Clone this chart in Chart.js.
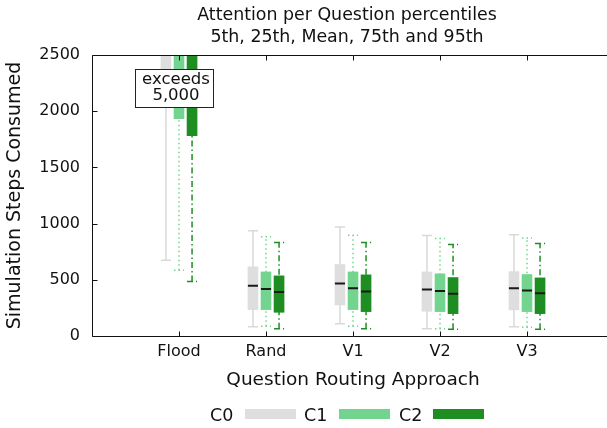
<!DOCTYPE html>
<html>
<head>
<meta charset="utf-8">
<script src="https://cdn.jsdelivr.net/npm/chart.js@4.4.1/dist/chart.umd.min.js"></script>
<style>
  html, body { margin: 0; padding: 0; background: #fff; overflow: hidden; }
  #wrap { position: relative; width: 607px; height: 428px; overflow: hidden; }
  #chart { display: block; }
  #legend { position: absolute; left: 0; top: 0; width: 100%; height: 100%; pointer-events: none;
            font-family: 'DejaVu Sans', sans-serif; font-size: 17.5px; color: #111; }
  .lg-text { position: absolute; top: 405px; line-height: 20px; white-space: nowrap; }
  .lg-swatch { position: absolute; top: 409px; width: 51px; height: 10px; }
</style>
</head>
<body>
<div id="wrap">
  <!-- canvas is wider than the page: the plot's right edge falls outside the view -->
  <canvas id="chart" width="630" height="428"></canvas>
  <div id="legend"></div>
</div>
<script>
const categories = ['Flood', 'Rand', 'V1', 'V2', 'V3'];
const yTicks = [0, 500, 1000, 1500, 2000, 2500];

// percentiles per routing approach; Flood's upper values run past the top of the axis
const c0P5   = [675, 83, 110, 65, 83];
const c0P25  = [2150, 235, 276, 220, 232];
const c0Mean = [5600, 446, 466, 413, 425];
const c0P75  = [7400, 615, 636, 570, 573];
const c0P95  = [9800, 936, 969, 894, 900];

const c1P5   = [585, 86, 86, 65, 77];
const c1P25  = [1934, 235, 235, 217, 217];
const c1Mean = [5300, 419, 425, 401, 404];
const c1P75  = [7000, 570, 570, 553, 547];
const c1P95  = [9400, 882, 897, 867, 871];

const c2P5   = [484, 65, 65, 59, 59];
const c2P25  = [1782, 211, 217, 199, 199];
const c2Mean = [5200, 392, 395, 377, 380];
const c2P75  = [6900, 535, 544, 520, 517];
const c2P95  = [9200, 832, 832, 814, 823];

const titleLines = ['Attention per Question percentiles', '5th, 25th, Mean, 75th and 95th'];
const noteLines = ['exceeds', '5,000'];

const series = [
  { name: 'C0', p5: c0P5, p25: c0P25, mean: c0Mean, p75: c0P75, p95: c0P95,
    fill: '#dedede', line: '#d9d9d9', dash: [], shift: -0.15, legendX: 210, swatchX: 245 },
  { name: 'C1', p5: c1P5, p25: c1P25, mean: c1Mean, p75: c1P75, p95: c1P95,
    fill: '#72d48f', line: '#72d48f', dash: [1.5, 3], shift: 0, legendX: 304, swatchX: 339 },
  { name: 'C2', p5: c2P5, p25: c2P25, mean: c2Mean, p75: c2P75, p95: c2P95,
    fill: '#1e8e22', line: '#1e8e22', dash: [6, 3, 1.5, 3], shift: 0.15, legendX: 399, swatchX: 433 }
];

const BOX_HALF = 0.058;   // half box width in category units

const datasets = [];
series.forEach(s => {
  const xs = categories.map((_, i) => i + 1 + s.shift);

  // whisker stems plus caps, broken apart with null y values
  const whisker = [];
  xs.forEach((x, i) => {
    whisker.push(
      { x, y: s.p5[i] }, { x, y: s.p95[i] }, { x, y: null },
      { x: x - BOX_HALF, y: s.p95[i] }, { x: x + BOX_HALF, y: s.p95[i] }, { x, y: null },
      { x: x - BOX_HALF, y: s.p5[i] }, { x: x + BOX_HALF, y: s.p5[i] }, { x, y: null }
    );
  });
  datasets.push({
    type: 'line', label: s.name + ' whiskers', data: whisker,
    borderColor: s.line, borderWidth: 1.5, borderDash: s.dash,
    pointRadius: 0, spanGaps: false, clip: 0, order: 3
  });

  // the 25th-75th box as a floating bar
  datasets.push({
    type: 'bar', label: s.name, data: xs.map((x, i) => ({ x, y: [s.p25[i], s.p75[i]] })),
    backgroundColor: s.fill, borderWidth: 0, barThickness: 10, grouped: false,
    clip: 0, order: 2
  });

  // mean marker across each box
  const means = [];
  xs.forEach((x, i) => {
    means.push({ x: x - BOX_HALF, y: s.mean[i] }, { x: x + BOX_HALF, y: s.mean[i] }, { x, y: null });
  });
  datasets.push({
    type: 'line', label: s.name + ' mean', data: means,
    borderColor: '#1a1a1a', borderWidth: 2, pointRadius: 0, spanGaps: false, clip: 0, order: 1
  });
});

// frame (top, left, bottom) with inward tick marks, gnuplot style, plus title and note
const framePlugin = {
  id: 'frame',
  afterDatasetsDraw(chart) {
    const { ctx, chartArea: a, scales: { x, y } } = chart;
    const L = Math.round(a.left) + 0.5, R = Math.round(a.right) + 0.5;
    const T = Math.round(a.top) + 0.5, B = Math.round(a.bottom) + 0.5;
    ctx.save();
    ctx.strokeStyle = '#111';
    ctx.lineWidth = 1;
    ctx.beginPath();
    ctx.moveTo(R, T); ctx.lineTo(L, T); ctx.lineTo(L, B); ctx.lineTo(R, B);
    x.ticks.forEach(t => {
      const px = Math.round(x.getPixelForValue(t.value)) + 0.5;
      ctx.moveTo(px, B); ctx.lineTo(px, B - 5);
      ctx.moveTo(px, T); ctx.lineTo(px, T + 5);
    });
    y.ticks.forEach(t => {
      const py = Math.round(y.getPixelForValue(t.value)) + 0.5;
      ctx.moveTo(L, py); ctx.lineTo(L + 5, py);
    });
    ctx.stroke();
    ctx.restore();
  },
  afterDraw(chart) {
    const { ctx, chartArea: a, scales: { x, y } } = chart;
    ctx.save();

    // two-line title over the plot
    ctx.fillStyle = '#111';
    ctx.font = '17.4px "DejaVu Sans"';
    ctx.textAlign = 'center';
    ctx.textBaseline = 'alphabetic';
    const tx = (a.left + a.right) / 2 - 6;
    ctx.fillText(titleLines[0], tx, 20);
    ctx.fillText(titleLines[1], tx, 41.5);

    // boxed note over the Flood column
    const cx = x.getPixelForValue(0.9425), cy = y.getPixelForValue(2206);
    const w = 78, h = 38;
    const left = Math.round(cx - w / 2) + 0.5, top = Math.round(cy - h / 2) + 0.5;
    ctx.fillStyle = '#fff';
    ctx.fillRect(left, top, w, h);
    ctx.strokeStyle = '#222';
    ctx.lineWidth = 1;
    ctx.strokeRect(left, top, w, h);
    ctx.fillStyle = '#111';
    ctx.font = '16.5px "DejaVu Sans"';
    ctx.textBaseline = 'middle';
    ctx.fillText(noteLines[0], cx + 2, cy - 8);
    ctx.fillText(noteLines[1], cx + 2, cy + 8);
    ctx.restore();
  }
};

Chart.defaults.font.family = "'DejaVu Sans', sans-serif";
Chart.defaults.color = '#111';

new Chart(document.getElementById('chart'), {
  type: 'bar',
  data: { datasets },
  plugins: [framePlugin],
  options: {
    responsive: false,
    animation: false,
    layout: { padding: { left: 0, right: 16, top: 55, bottom: 36 } },
    plugins: {
      legend: { display: false },
      tooltip: { enabled: false },
      title: { display: false }
    },
    scales: {
      x: {
        type: 'linear', min: 0, max: categories.length + 1, offset: false,
        afterBuildTicks: sc => { sc.ticks = categories.map((_, i) => ({ value: i + 1 })); },
        afterFit: sc => { sc.height = 56; },
        ticks: { callback: v => categories[v - 1], font: { size: 16 }, padding: 6, autoSkip: false, maxRotation: 0 },
        grid: { display: false, drawTicks: false },
        border: { display: false },
        title: { display: true, text: 'Question Routing Approach', font: { size: 18.5 }, padding: { top: 0, bottom: 1 } }
      },
      y: {
        min: 0, max: 2500,
        afterBuildTicks: sc => { sc.ticks = yTicks.map(v => ({ value: v })); },
        afterFit: sc => { sc.width = 92; },
        ticks: { callback: v => String(v), font: { size: 16 }, padding: 12 },
        grid: { display: false, drawTicks: false },
        border: { display: false },
        title: { display: true, text: 'Simulation Steps Consumed', font: { size: 19 }, padding: { top: 4, bottom: 0 } }
      }
    }
  }
});

// legend row: name first, then a swatch of the box colour
const legendEl = document.getElementById('legend');
series.forEach(s => {
  const t = document.createElement('span');
  t.className = 'lg-text';
  t.style.left = s.legendX + 'px';
  t.textContent = s.name;
  legendEl.appendChild(t);
  const sw = document.createElement('div');
  sw.className = 'lg-swatch';
  sw.style.left = s.swatchX + 'px';
  sw.style.background = s.fill;
  legendEl.appendChild(sw);
});
</script>
</body>
</html>
